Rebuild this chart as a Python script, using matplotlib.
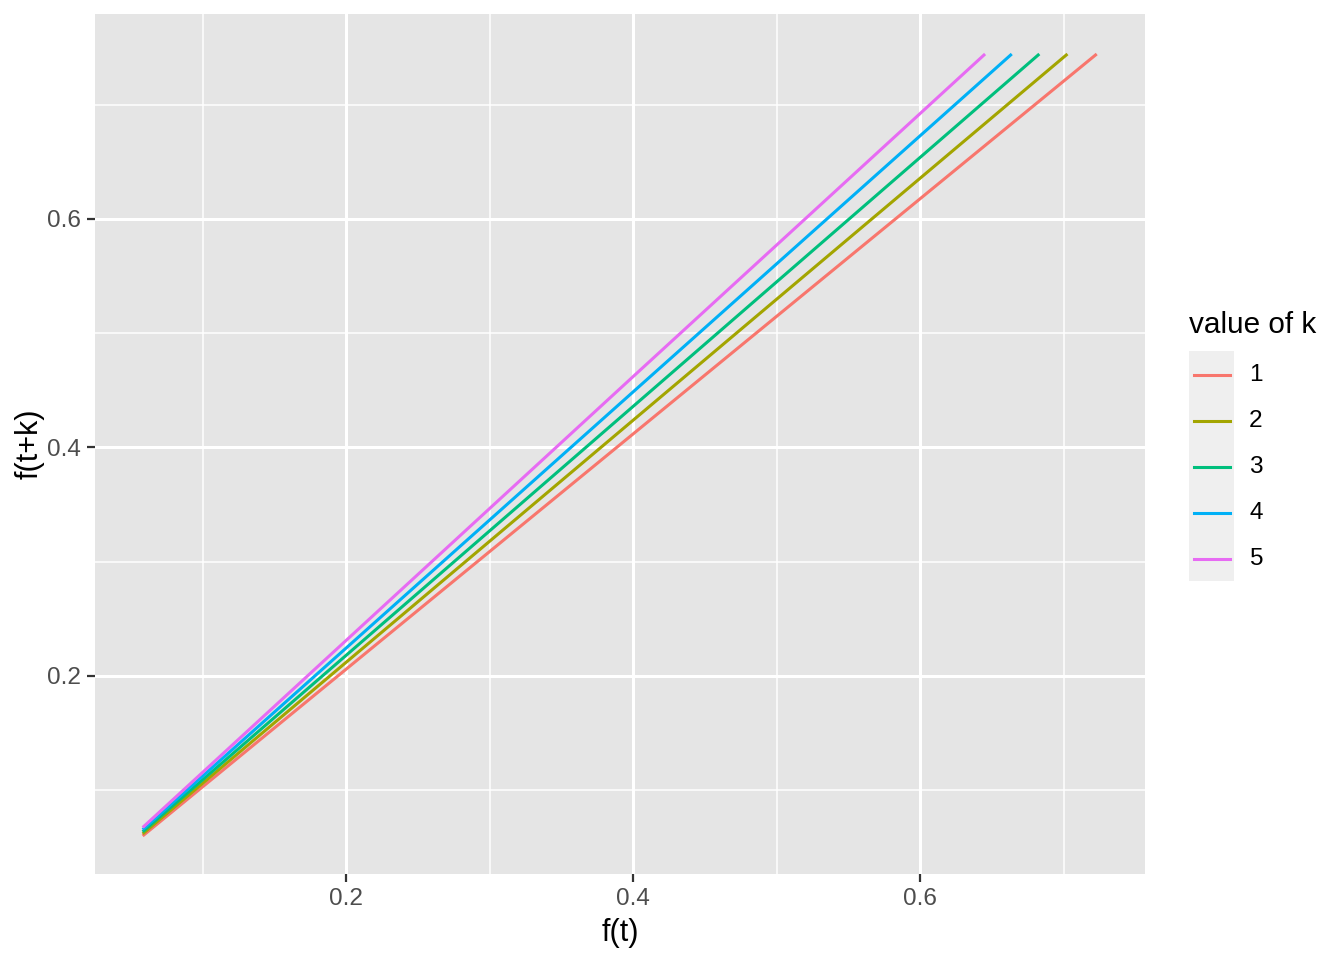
import matplotlib.pyplot as plt
from matplotlib.lines import Line2D
from matplotlib.patches import Rectangle

# values
k_values = ["1", "2", "3", "4", "5"]
colors = ["#F8766D", "#A3A500", "#00BF7D", "#00B0F6", "#E76BF3"]

ft_1 = [0.0583, 0.4, 0.7231]
ftk_1 = [0.0600, 0.4118, 0.7444]
ft_2 = [0.0583, 0.4, 0.7027]
ftk_2 = [0.0618, 0.4238, 0.7444]
ft_3 = [0.0583, 0.4, 0.6831]
ftk_3 = [0.0636, 0.4359, 0.7444]
ft_4 = [0.0583, 0.4, 0.6639]
ftk_4 = [0.0655, 0.4486, 0.7444]
ft_5 = [0.0583, 0.4, 0.6453]
ftk_5 = [0.0674, 0.4620, 0.7444]

xs = [ft_1, ft_2, ft_3, ft_4, ft_5]
ys = [ftk_1, ftk_2, ftk_3, ftk_4, ftk_5]

plt.rcParams["font.family"] = ["Liberation Sans", "DejaVu Sans"]

fig = plt.figure(figsize=(6.72, 4.8), dpi=200)
ax = fig.add_axes([0.0707, 0.0896, 0.7813, 0.8958])
ax.set_facecolor("#E5E5E5")

for x, y, c in zip(xs, ys, colors):
    ax.plot(x, y, color=c, lw=1.1, solid_capstyle="butt", zorder=3)

ax.set_xlim(0.0251, 0.7568)
ax.set_ylim(0.0267, 0.7794)
ax.set_xticks([0.2, 0.4, 0.6])
ax.set_yticks([0.2, 0.4, 0.6])
ax.set_xticks([0.1, 0.3, 0.5, 0.7], minor=True)
ax.set_yticks([0.1, 0.3, 0.5, 0.7], minor=True)
ax.set_xticklabels(["0.2", "0.4", "0.6"])
ax.set_yticklabels(["0.2", "0.4", "0.6"])

ax.grid(which="major", color="white", lw=1.1, zorder=0)
ax.grid(which="minor", color="white", lw=0.55, zorder=0)
ax.set_axisbelow(True)
for s in ax.spines.values():
    s.set_visible(False)

ax.tick_params(which="major", length=3, width=0.8, color="#333333",
               labelsize=8.8, labelcolor="#4D4D4D", pad=2)
ax.tick_params(which="minor", length=0)

ax.set_xlabel("f(t)", fontsize=11, labelpad=3)
ax.set_ylabel("f(t+k)", fontsize=11, labelpad=1)

# legend
W, H = 1344, 960
fig.text(1189 / W, 1 - 325 / H, "value of k", fontsize=10.7, va="center", ha="left")
fig.patches.append(Rectangle((1189 / W, 1 - 581 / H), 45 / W, 230 / H,
                             transform=fig.transFigure, facecolor="#EFEFEF",
                             edgecolor="none"))
row_y = [375, 421, 467, 513, 559]
for lab, c, yy in zip(k_values, colors, row_y):
    fig.lines.append(Line2D([1194 / W, 1230 / W], [1 - yy / H, 1 - yy / H],
                            transform=fig.transFigure, color=c, lw=1.1))
    fig.text(1249 / W, 1 - yy / H, lab, fontsize=8.8, va="center", ha="left")

fig.savefig("out.png", dpi=200)
